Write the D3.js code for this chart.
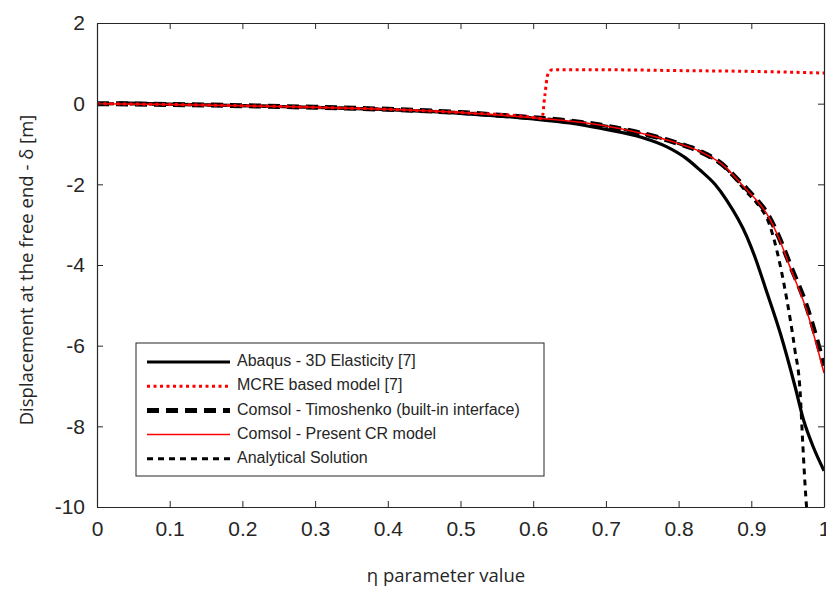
<!DOCTYPE html>
<meta charset="utf-8">
<head>
    <title>Displacement vs eta</title>
    <style>
        body { margin: 0; background: #fff; }
        text { font-family: "Liberation Sans", Arial, sans-serif; fill: #262626; }
    </style>
</head>

<script src="https://d3js.org/d3.v7.min.js"></script>

<div id="dataVis"></div>

<script>

    // series data: [eta, delta]
    var abaqus = [[0.03, 0.02], [0.1, -0.01], [0.2, -0.05], [0.3, -0.09], [0.4, -0.15], [0.5, -0.24],
        [0.6, -0.38], [0.65, -0.48], [0.692, -0.61], [0.75, -0.84], [0.784, -1.07], [0.81, -1.35],
        [0.829, -1.64], [0.85, -2.0], [0.866, -2.39], [0.894, -3.3], [0.905, -3.8], [0.92, -4.6],
        [0.94, -5.7], [0.96, -7.0], [0.972, -7.85], [0.985, -8.5], [1.0, -9.1]];

    var mcre = [[0, 0], [0.1, -0.02], [0.2, -0.05], [0.3, -0.09], [0.4, -0.14], [0.5, -0.22],
        [0.6, -0.34], [0.612, -0.37], [0.616, 0.2], [0.62, 0.72], [0.626, 0.84], [0.7, 0.84],
        [0.8, 0.82], [0.9, 0.8], [1.0, 0.76]];

    var timoshenko = [[0, 0], [0.1, -0.02], [0.2, -0.05], [0.3, -0.09], [0.4, -0.14], [0.5, -0.22],
        [0.6, -0.35], [0.64, -0.41], [0.692, -0.53], [0.75, -0.74], [0.784, -0.9], [0.8, -0.99],
        [0.829, -1.18], [0.866, -1.6], [0.875, -1.77], [0.894, -2.12], [0.907, -2.38], [0.921, -2.7],
        [0.939, -3.35], [0.953, -3.98], [0.976, -5.02], [1.0, -6.5]];

    var crModel = [[0, 0], [0.1, -0.02], [0.2, -0.05], [0.3, -0.09], [0.4, -0.14], [0.5, -0.22],
        [0.6, -0.35], [0.64, -0.41], [0.692, -0.53], [0.75, -0.74], [0.784, -0.9], [0.8, -0.99],
        [0.829, -1.18], [0.866, -1.6], [0.875, -1.77], [0.894, -2.14], [0.907, -2.39], [0.921, -2.72],
        [0.939, -3.38], [0.953, -4.04], [0.976, -5.12], [1.0, -6.68]];

    var analytical = [[0, 0], [0.1, -0.02], [0.2, -0.05], [0.3, -0.09], [0.4, -0.14], [0.5, -0.22],
        [0.6, -0.35], [0.64, -0.41], [0.692, -0.53], [0.75, -0.74], [0.784, -0.9], [0.8, -0.99],
        [0.829, -1.18], [0.866, -1.62], [0.894, -2.2], [0.907, -2.45], [0.926, -3.05], [0.935, -3.63],
        [0.949, -4.87], [0.96, -6.11], [0.967, -7.1], [0.971, -8.5], [0.975, -9.75], [0.976, -10]];

    var seriesNames = ["Abaqus - 3D Elasticity [7]", "MCRE based model [7]",
        "Comsol - Timoshenko (built-in interface)", "Comsol - Present CR model", "Analytical Solution"];

    var xTicks = [0, 0.1, 0.2, 0.3, 0.4, 0.5, 0.6, 0.7, 0.8, 0.9, 1];
    var yTicks = [2, 0, -2, -4, -6, -8, -10];

    var styles = [
        { color: "#000", width: 3.2, dash: null },
        { color: "#ff0000", width: 3, dash: "3,3.5" },
        { color: "#000", width: 5, dash: "12,7" },
        { color: "#ff0000", width: 1.5, dash: null },
        { color: "#000", width: 3, dash: "6,5" }
    ];
    var allSeries = [abaqus, mcre, timoshenko, crModel, analytical];

    var margin = { top: 23, right: 2, bottom: 83, left: 97 },
        width = 826 - margin.left - margin.right,
        height = 590 - margin.top - margin.bottom;

    var svg = d3.select("#dataVis")
        .append("svg")
        .attr("width", 826)
        .attr("height", 590);

    var g = svg.append("g")
        .attr("transform", "translate(" + margin.left + "," + margin.top + ")");

    var x = d3.scaleLinear().domain([0, 1]).range([0, width]);
    var y = d3.scaleLinear().domain([-10, 2]).range([height, 0]);

    g.append("defs").append("clipPath").attr("id", "clip")
        .append("rect").attr("width", width).attr("height", height);

    var line = d3.line()
        .curve(d3.curveMonotoneX)
        .x(function (d) { return x(d[0]); })
        .y(function (d) { return y(d[1]); });

    // draw order: abaqus, timoshenko, analytical, cr, mcre
    [0, 2, 4, 3, 1].forEach(function (i) {
        g.append("path")
            .datum(allSeries[i])
            .attr("clip-path", "url(#clip)")
            .attr("fill", "none")
            .attr("stroke", styles[i].color)
            .attr("stroke-width", styles[i].width)
            .attr("stroke-dasharray", styles[i].dash)
            .attr("d", line);
    });

    // axes (box with inner ticks)
    var axColor = "#262626";
    var plain = function (d) { return String(d); };
    g.append("g").attr("transform", "translate(0," + height + ")")
        .call(d3.axisBottom(x).tickValues(xTicks).tickSizeInner(-6).tickSizeOuter(0).tickPadding(14)
            .tickFormat(plain));
    g.append("g")
        .call(d3.axisTop(x).tickValues(xTicks).tickSizeInner(-6).tickSizeOuter(0).tickFormat(""));
    g.append("g")
        .call(d3.axisLeft(y).tickValues(yTicks).tickSizeInner(-6).tickSizeOuter(0).tickPadding(12)
            .tickFormat(plain));
    g.append("g").attr("transform", "translate(" + width + ",0)")
        .call(d3.axisRight(y).tickValues(yTicks).tickSizeInner(-6).tickSizeOuter(0).tickFormat(""));

    g.selectAll(".domain").attr("stroke", axColor).attr("stroke-width", 1.2);
    g.selectAll(".tick line").attr("stroke", axColor);
    g.selectAll(".tick text").style("font-size", "21px")
        .style("font-family", "'Liberation Sans', Arial, sans-serif").attr("fill", axColor);

    // axis labels
    svg.append("text")
        .attr("x", 446)
        .attr("y", 582)
        .attr("text-anchor", "middle")
        .style("font-family", "'Open Sans', 'Noto Sans', sans-serif")
        .style("font-size", "18.5px")
        .attr("fill", "#000")
        .text("η parameter value");

    svg.append("text")
        .attr("transform", "translate(33,270) rotate(-90)")
        .attr("text-anchor", "middle")
        .style("font-family", "'Open Sans', 'Noto Sans', sans-serif")
        .style("font-size", "18.5px")
        .attr("fill", "#000")
        .text("Displacement at the free end - δ [m]");

    // legend
    var legend = svg.append("g").attr("transform", "translate(136,343)");
    legend.append("rect")
        .attr("width", 408).attr("height", 133)
        .attr("fill", "#fff").attr("stroke", axColor).attr("stroke-width", 1);

    seriesNames.forEach(function (name, i) {
        var ly = 19 + i * 24.2;
        legend.append("line")
            .attr("x1", 11).attr("x2", 94)
            .attr("y1", ly).attr("y2", ly)
            .attr("stroke", styles[i].color)
            .attr("stroke-width", styles[i].width)
            .attr("stroke-dasharray", styles[i].dash);
        legend.append("text")
            .attr("x", 101).attr("y", ly)
            .attr("dominant-baseline", "middle")
            .style("font-size", "16px")
            .attr("fill", "#000")
            .text(name);
    });

</script>
